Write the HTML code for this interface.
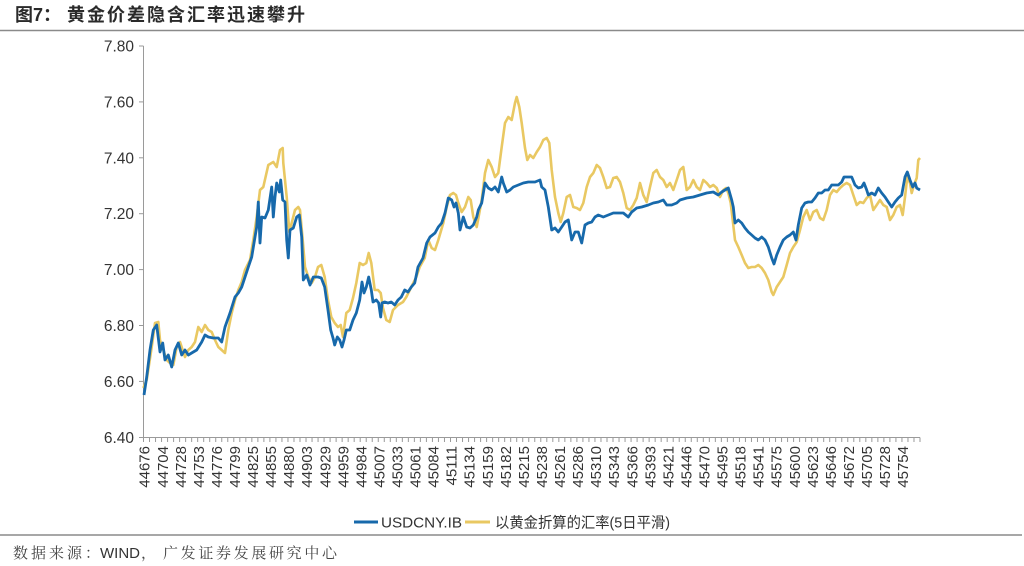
<!DOCTYPE html>
<html><head><meta charset="utf-8"><style>
html,body{margin:0;padding:0;background:#fff;}
svg{display:block;}
</style></head><body>
<svg width="1024" height="566" viewBox="0 0 1024 566" xmlns="http://www.w3.org/2000/svg">
<rect width="1024" height="566" fill="#fff"/>
<!-- title -->
<text x="15" y="21" font-family="'Liberation Sans','Noto Sans CJK SC',sans-serif" font-size="18" font-weight="bold" fill="#2a2a2a" textLength="46" lengthAdjust="spacing">图7：</text>
<text x="67" y="21" font-family="'Liberation Sans','Noto Sans CJK SC',sans-serif" font-size="18" font-weight="bold" fill="#2a2a2a" textLength="238" lengthAdjust="spacing">黄金价差隐含汇率迅速攀升</text>
<line x1="0" y1="30.5" x2="1024" y2="30.5" stroke="#8a8a8a" stroke-width="1.5"/>
<!-- footer -->
<line x1="0" y1="535" x2="1022" y2="535" stroke="#8a8a8a" stroke-width="1.5"/>
<text x="13" y="558" font-family="'Liberation Serif','Noto Serif CJK SC',serif" font-size="15" fill="#444" textLength="87" lengthAdjust="spacing">数据来源：</text>
<text x="100" y="558" font-family="'Liberation Sans',sans-serif" font-size="15" fill="#333" textLength="40" lengthAdjust="spacingAndGlyphs">WIND</text>
<text x="141" y="558" font-family="'Liberation Serif','Noto Serif CJK SC',serif" font-size="15" fill="#444">，</text>
<text x="163" y="558" font-family="'Liberation Serif','Noto Serif CJK SC',serif" font-size="15" fill="#444" textLength="174" lengthAdjust="spacing">广发证券发展研究中心</text>

<!-- axes -->
<g stroke="#9a9a9a" stroke-width="1">
<line x1="143.5" y1="46" x2="143.5" y2="437.5"/>
<line x1="143.5" y1="437.5" x2="920" y2="437.5"/>
<line x1="139" y1="46" x2="143.5" y2="46"/>
<line x1="139" y1="101.9" x2="143.5" y2="101.9"/>
<line x1="139" y1="157.8" x2="143.5" y2="157.8"/>
<line x1="139" y1="213.7" x2="143.5" y2="213.7"/>
<line x1="139" y1="269.6" x2="143.5" y2="269.6"/>
<line x1="139" y1="325.5" x2="143.5" y2="325.5"/>
<line x1="139" y1="381.4" x2="143.5" y2="381.4"/>
<line x1="139" y1="437.5" x2="143.5" y2="437.5"/>
</g>
<g id="xticks" stroke="#9a9a9a" stroke-width="1"></g>
<g font-family="'Liberation Sans',sans-serif" font-size="15.5" fill="#333" text-anchor="end">
<text x="134" y="51.5">7.80</text>
<text x="134" y="107.4">7.60</text>
<text x="134" y="163.3">7.40</text>
<text x="134" y="219.2">7.20</text>
<text x="134" y="275.1">7.00</text>
<text x="134" y="331">6.80</text>
<text x="134" y="386.9">6.60</text>
<text x="134" y="442.8">6.40</text>
</g>
<g id="xlabels" font-family="'Liberation Sans',sans-serif" font-size="15" fill="#333" text-anchor="end"></g>

<!-- series -->
<polyline fill="none" stroke="#e9c862" stroke-width="2.6" stroke-linejoin="round" points="143.3,388 146.7,380 149.3,363 151.7,347 155,323 158.3,322 160,340 163.3,350 166.7,360 170,363 173.3,365 176.7,347 180,342 185,357 188.3,350 191.7,347 195,342 198.3,327 201.7,332 205,325 208.3,330 211.7,332 215,340 218.3,347 221.7,350 225,353 228.3,330 231.7,313 235,300 238.3,290 241.7,282 245,270 250,260 253.3,240 256.7,217 260,190 263.3,187 268.3,165 273.3,162 276.7,167 280,150 282.7,148 283.3,163 286.7,197 289.3,232 291.7,223 295,210 298.3,207 300,210 302.7,240 305,267 308.3,277 311.7,283 315,277 318,267 321.3,265 324.7,277 328,300 331.3,317 334.7,323 338,327 340.7,325 343,337 346.3,313 349.7,310 353,298 356.3,283 359.7,263 363,265 366.3,263 368.7,253 371.3,263 374.7,290 378,290 380.7,293 383,308 386.3,320 389.7,322 393,310 398,305 403,302 406.3,297 411.3,287 416.3,277 419.7,267 424.7,258 428.3,240 431.7,248 435,250 438.3,240 443.3,223 446.7,207 450,195 453.3,193 456,195 458.3,203 461.7,212 465,207 468.3,197 470.7,200 473.3,217 476.7,227 479.3,213 481.7,200 485,173 488.3,160 491.7,167 495,177 498.3,173 501.7,147 505,123 508.3,117 511.7,120 515,103 516.7,97 519.3,107 521.7,123 525,148 527.3,160 530,155 533.3,158 536.7,152 540,147 543.3,140 546.7,138 549.3,143 551.7,170 555,197 558.3,213 560.7,222 563.3,213 566.7,197 570,195 573.3,207 576.7,208 580,210 583.3,203 586.7,187 590,177 593.3,173 596.7,165 600,168 603.3,177 606.7,188 610,187 613.3,178 616.7,177 620,182 623.3,193 626.7,208 630,210 633.3,205 636.7,198 640,183 643.3,195 646.7,202 650,187 653.3,173 656.7,170 660,177 663.3,180 666.7,187 670,183 673.3,190 676.7,180 680,170 683.3,167 686.7,190 690,187 693.3,180 696.7,187 700,190 703.3,180 706.7,183 710,187 713.3,185 716.7,188 720,197 723.3,190 726,188 728.3,193 730.7,203 732.7,220 735,240 738.3,247 741.7,255 745,263 748.3,268 751.7,267 755,267 758.3,265 761.7,268 765,273 768.3,280 771.7,292 773.3,295 776.7,287 780,282 783.3,277 786.7,265 790,253 793.3,247 796.7,242 800,230 803.3,217 806.7,210 810,220 813.3,212 816.7,210 820,218 823.3,220 826.7,210 830,195 833.3,190 836.7,192 840,188 843.3,185 846.7,183 850,185 853.3,195 856.7,205 860,202 863.3,203 866.7,198 870,195 873.3,210 876.7,205 880,200 883.3,205 886.7,207 890,220 893.3,215 896.7,207 900,205 902.7,215 905,197 907.3,177 910,183 911.7,193 914,185 916.7,178 918.3,160 920,158"/>
<polyline fill="none" stroke="#1769ab" stroke-width="2.8" stroke-linejoin="round" points="144,395 146.7,377 150,350 153.3,330 156.7,325 160,352 162.7,343 165,360 168.3,355 171.7,367 175,350 178.3,343 181.7,355 185,350 188.3,355 193.3,352 196.7,350 201.7,342 205,335 208.3,337 213.3,338 218.3,338 221.7,342 225,327 230,313 235,297 238.3,293 241.7,287 245,277 248.3,267 251.7,257 255,237 256.7,227 258.3,202 260,243 261.7,217 265,218 268.3,210 271.7,187 273.3,217 275,197 276.7,183 279.3,192 280.7,180 282.7,200 285,202 286.7,240 288.3,258 290,230 293.3,228 296.7,217 299.3,215 301.7,237 303.3,280 306.7,275 310,285 313.3,277 318,277 321.3,278 324.7,287 328,310 330.7,330 333,338 334.7,345 337.3,337 339.7,340 342,347 344,340 346.3,330 349.7,330 353,320 356.3,313 359.7,300 362,282 364,293 366.3,287 368.7,277 371.3,290 373,302 376.3,300 378.7,303 380.7,317 382,303 384.7,302 388,303 391.3,302 394.7,305 398,300 401.3,297 404.7,290 408,292 411.3,287 414.7,283 418,267 423,258 426.7,243 430,237 435,233 438.3,227 441.7,223 445,213 448.3,198 451.7,200 454,207 456,203 458.3,213 460,230 463.3,217 466.7,227 470,228 473.3,225 476.7,217 478.3,210 481.7,203 485,183 488.3,188 491.7,190 495,187 498.3,192 501.7,177 503.3,183 506.7,192 510,190 513.3,187 518.3,185 523.3,183 528.3,182 535,182 540,180 541.7,187 545,190 548.3,207 551.7,230 555,228 558.3,232 561.7,227 565,222 568.3,220 571.7,240 575,232 578.3,232 581.7,243 585,225 588.3,223 591.7,222 595,217 598.3,215 603.3,217 608.3,215 613.3,213 618.3,213 623.3,213 628.3,217 631.7,212 636.7,208 641.7,207 648.3,205 653.3,203 658.3,202 663.3,200 666.7,205 671.7,205 676.7,203 680,200 686.7,198 693.3,197 700,195 706.7,193 713.3,192 718.3,195 721.7,192 725,190 728.3,188 731.7,200 733.3,207 735,223 738.3,220 741.7,223 745,228 748.3,232 751.7,235 755,238 758.3,240 761.7,237 765,240 768.3,247 771.7,258 774,264 776.7,255 780,247 783.3,240 786.7,237 790,235 793.3,232 796,240 798.3,225 801.7,208 805,203 808.3,202 811.7,202 815,198 818.3,193 821.7,193 825,190 828.3,190 831.7,185 835,185 838.3,185 841.7,182 844,177 848.3,177 851.7,177 855,185 858.3,188 861.7,187 864,183 866.7,190 868.3,195 871.7,193 875,195 878.3,188 881.7,193 885,197 888.3,202 891.7,207 895,202 898.3,198 901.7,195 905,177 907.3,172 910,180 912.7,187 915,183 916.7,188 920,190"/>

<!-- legend -->
<line x1="354" y1="522" x2="378" y2="522" stroke="#1769ab" stroke-width="3"/>
<text x="381" y="527.5" font-family="'Liberation Sans',sans-serif" font-size="15" fill="#333" textLength="81" lengthAdjust="spacingAndGlyphs">USDCNY.IB</text>
<line x1="465" y1="522" x2="490" y2="522" stroke="#e9c862" stroke-width="3"/>
<text x="495" y="527.5" font-family="'Liberation Sans','Noto Sans CJK SC',sans-serif" font-size="15" fill="#333" textLength="175" lengthAdjust="spacingAndGlyphs">以黄金折算的汇率(5日平滑)</text>
</svg>
<script>
(function(){
var NS="http://www.w3.org/2000/svg";
var t=document.getElementById("xticks");
var x0=143.5, x1=920, n=129, step=(x1-x0)/n;
for(var k=0;k<=n;k++){
  var x=x0+step*k;
  var l=document.createElementNS(NS,"line");
  l.setAttribute("x1",x);l.setAttribute("x2",x);
  l.setAttribute("y1",437.5);l.setAttribute("y2",442);
  t.appendChild(l);
}
var labs=[44676,44704,44728,44753,44776,44799,44825,44855,44880,44903,44929,44959,44984,45007,45033,45061,45084,45111,45134,45159,45182,45215,45238,45261,45286,45310,45343,45366,45393,45421,45446,45470,45495,45518,45541,45575,45600,45623,45646,45672,45705,45728,45754];
var g=document.getElementById("xlabels");
for(var i=0;i<labs.length;i++){
  var cx=x0+step*3*i+0.8;
  var bx=cx+5.4, by=446;
  var tx=document.createElementNS(NS,"text");
  tx.setAttribute("x",bx);tx.setAttribute("y",by);
  tx.setAttribute("transform","rotate(-90 "+bx+" "+by+")");
  tx.textContent=labs[i];
  g.appendChild(tx);
}
})();
</script>
</body></html>
